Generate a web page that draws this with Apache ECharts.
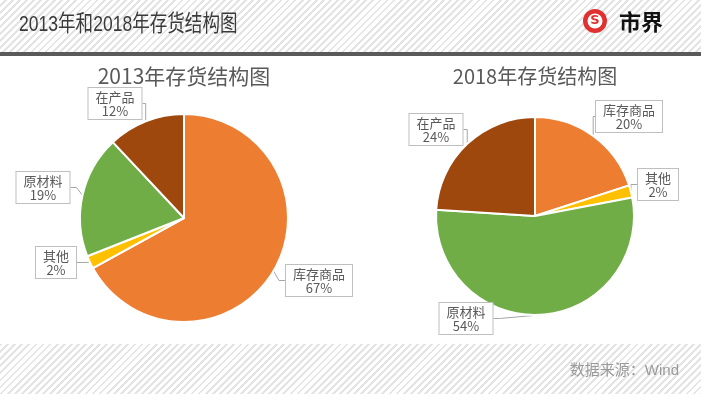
<!DOCTYPE html>
<html>
<head>
<meta charset="utf-8">
<script src="https://cdn.jsdelivr.net/npm/echarts@6/dist/echarts.min.js"></script>
<style>
html,body{margin:0;padding:0;}
body{width:701px;height:394px;overflow:hidden;
background:repeating-linear-gradient(135deg,#ffffff 0px,#ffffff 3px,#e4e4e4 3px,#e4e4e4 5px);}
#c{width:701px;height:394px;}
</style>
</head>
<body>
<div id="c"></div>
<script>
const mainTitle = '2013年和2018年存货结构图';
const source = '数据来源：Wind';
const categories = ['库存商品', '其他', '原材料', '在产品'];
const colors = ['#ED7D31', '#FFC000', '#70AD47', '#9E480E'];
const values2013 = [67, 2, 19, 12];
const values2018 = [20, 2, 54, 24];
const title2013 = '2013年存货结构图';
const title2018 = '2018年存货结构图';

// label box placement (center x, top y), styling only
const labelPos2013 = [[319, 265], [56, 247], [43, 172], [115, 88]];
const labelPos2018 = [[629, 101], [658, 169], [466, 303], [436, 114]];

function mk(values) {
  return categories.map((n, i) => ({ name: n, value: values[i], itemStyle: { color: colors[i] } }));
}

function pie(values, center, radius, pos) {
  return {
    type: 'pie',
    center: center,
    radius: radius,
    startAngle: 90,
    clockwise: true,
    data: mk(values),
    animation: false,
    itemStyle: { borderColor: '#fff', borderWidth: 2 },
    label: {
      show: true,
      position: 'outside',
      formatter: p => p.name + '\n' + p.value + '%',
      color: '#595959',
      fontSize: 13,
      lineHeight: 14,
      align: 'center',
      fontFamily: 'Noto Sans CJK SC',
      backgroundColor: '#fff',
      borderColor: '#bfbfbf',
      borderWidth: 1,
      padding: [2, 7, 1, 7]
    },
    labelLine: { show: true, length: 6, length2: 6, lineStyle: { color: '#a6a6a6', width: 1 } },
    labelLayout: function (p) {
      const xy = pos[p.dataIndex];
      return { x: xy[0], y: xy[1], align: 'center', verticalAlign: 'top' };
    },
    emphasis: { disabled: true }
  };
}

const chart = echarts.init(document.getElementById('c'), null, { renderer: 'canvas' });
chart.setOption({
  backgroundColor: 'transparent',
  graphic: [
    { type: 'rect', z: -10, shape: { x: 0, y: 56, width: 701, height: 288 }, style: { fill: '#ffffff' } },
    { type: 'rect', z: -9, shape: { x: 0, y: 52, width: 701, height: 4 }, style: { fill: '#5a5a5a' } },
    { type: 'text', x: 19, y: 25, scaleX: 0.78, style: { text: mainTitle, fontSize: 22.5, fill: '#3a3a3a', verticalAlign: 'middle', fontFamily: 'Liberation Sans, Noto Sans CJK SC' } },
    { type: 'circle', shape: { cx: 595, cy: 21, r: 12 }, style: { fill: '#e03030' } },
    { type: 'circle', shape: { cx: 595, cy: 21, r: 7.5 }, style: { fill: '#ffffff' } },
    { type: 'text', x: 595, y: 21, style: { text: 'S', fontSize: 13, fontWeight: 'bold', fill: '#e03030', align: 'center', verticalAlign: 'middle', fontFamily: 'DejaVu Sans' } },
    { type: 'text', x: 619, y: 22, style: { text: '市界', fontSize: 22, fontWeight: 'bold', fill: '#111', verticalAlign: 'middle', fontFamily: 'Noto Sans CJK SC' } },
    { type: 'text', right: 22, top: 363, style: { text: source, fontSize: 15, fill: '#9a9a9a', fontFamily: 'Liberation Sans, Noto Sans CJK SC' } },
    { type: 'text', x: 184, y: 76, style: { text: title2013, fontSize: 21, fill: '#595959', align: 'center', verticalAlign: 'middle', fontFamily: 'Noto Sans CJK SC' } },
    { type: 'text', x: 535, y: 76, style: { text: title2018, fontSize: 20, fill: '#595959', align: 'center', verticalAlign: 'middle', fontFamily: 'Noto Sans CJK SC' } }
  ],
  series: [
    pie(values2013, [184, 218], 104, labelPos2013),
    pie(values2018, [535, 216], 99, labelPos2018)
  ]
});
</script>
</body>
</html>
